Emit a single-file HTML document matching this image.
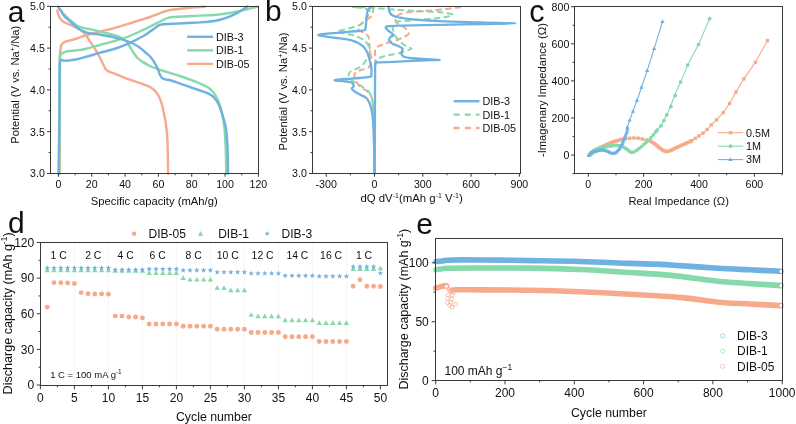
<!DOCTYPE html>
<html><head><meta charset="utf-8"><style>
html,body{margin:0;padding:0;background:#fff;}
body{width:796px;height:424px;overflow:hidden;font-family:"Liberation Sans", sans-serif;}
svg{display:block;will-change:transform;}
</style></head><body>
<svg width="796" height="424" viewBox="0 0 796 424" font-family='Liberation Sans, sans-serif' fill="#111">
<rect width="796" height="424" fill="#fff"/>
<path d="M57.4 10.5 C57.47 10.92 57.45 11.83 57.8 13 C58.15 14.17 58.8 16.23 59.5 17.5 C60.2 18.77 61.22 19.82 62 20.6 C62.78 21.38 62.67 21.43 64.2 22.2 C65.73 22.97 68.85 24.1 71.2 25.2 C73.55 26.3 76.42 27.75 78.3 28.8 C80.18 29.85 81.32 30.57 82.5 31.5 C83.68 32.43 84.22 32.85 85.4 34.4 C86.58 35.95 87.95 38.32 89.6 40.8 C91.25 43.28 93.6 46.52 95.3 49.3 C97 52.08 98.38 54.8 99.8 57.5 C101.22 60.2 102.77 63.5 103.8 65.5 C104.83 67.5 105.22 68.53 106 69.5 C106.78 70.47 107.13 70.65 108.5 71.3 C109.87 71.95 110.9 72.1 114.2 73.4 C117.5 74.7 123.58 77.33 128.3 79.1 C133.02 80.87 138.97 82.72 142.5 84 C146.03 85.28 147.38 85.62 149.5 86.8 C151.62 87.98 153.67 89.57 155.2 91.1 C156.73 92.63 157.77 94.35 158.7 96 C159.63 97.65 160.13 99.1 160.8 101 C161.47 102.9 162.13 105.07 162.7 107.4 C163.27 109.73 163.72 112.57 164.2 115 C164.68 117.43 165.13 118.8 165.6 122 C166.07 125.2 166.65 129.82 167 134.2 C167.35 138.58 167.52 141.75 167.7 148.3 C167.88 154.85 168.03 169.3 168.1 173.5" fill="none" stroke="#F7A98B" stroke-width="2.4" stroke-linejoin="round" stroke-linecap="round" />
<path d="M59.6 173.5 C59.63 164.58 59.73 139.2 59.8 120 C59.87 100.8 59.88 69.97 60 58.3 C60.12 46.63 60.3 52.17 60.5 50 C60.7 47.83 60.7 46.5 61.2 45.3 C61.7 44.1 62.53 43.48 63.5 42.8 C64.47 42.12 65.53 41.68 67 41.2 C68.47 40.72 70.42 40.43 72.3 39.9 C74.18 39.37 76.35 38.67 78.3 38 C80.25 37.33 81.63 36.62 84 35.9 C86.37 35.18 89.83 34.42 92.5 33.7 C95.17 32.98 96.38 32.53 100 31.6 C103.62 30.67 109.48 29.4 114.2 28.1 C118.92 26.8 123.58 25.25 128.3 23.8 C133.02 22.35 138.88 20.53 142.5 19.4 C146.12 18.27 147.57 17.85 150 17 C152.43 16.15 154.73 15.22 157.1 14.3 C159.47 13.38 161.85 12.25 164.2 11.5 C166.55 10.75 167.67 10.35 171.2 9.8 C174.73 9.25 180.68 8.65 185.4 8.2 C190.12 7.75 196.2 7.37 199.5 7.1 C202.8 6.83 204.25 6.68 205.2 6.6" fill="none" stroke="#F7A98B" stroke-width="2.4" stroke-linejoin="round" stroke-linecap="round" />
<path d="M58.2 7 C58.67 7.63 60 9.55 61 10.8 C62 12.05 62.5 12.8 64.2 14.5 C65.9 16.2 68.85 19.03 71.2 21 C73.55 22.97 75.93 25.07 78.3 26.3 C80.67 27.53 83.03 27.83 85.4 28.4 C87.77 28.97 90.07 29.17 92.5 29.7 C94.93 30.23 96.38 30.7 100 31.6 C103.62 32.5 110.7 34.12 114.2 35.1 C117.7 36.08 119.12 36.6 121 37.5 C122.88 38.4 124.05 39 125.5 40.5 C126.95 42 128.28 44.33 129.7 46.5 C131.12 48.67 132.62 51.5 134 53.5 C135.38 55.5 136.58 57.13 138 58.5 C139.42 59.87 140.5 60.45 142.5 61.7 C144.5 62.95 147.08 64.63 150 66 C152.92 67.37 155.28 68.32 160 69.9 C164.72 71.48 172.88 73.73 178.3 75.5 C183.72 77.27 188.88 79.17 192.5 80.5 C196.12 81.83 197.33 82.28 200 83.5 C202.67 84.72 206.13 86.15 208.5 87.8 C210.87 89.45 212.55 91.17 214.2 93.4 C215.85 95.63 217.12 98.02 218.4 101.2 C219.68 104.38 220.92 108.25 221.9 112.5 C222.88 116.75 223.73 122.12 224.3 126.7 C224.87 131.28 225.03 135.28 225.3 140 C225.57 144.72 225.75 149.42 225.9 155 C226.05 160.58 226.15 170.42 226.2 173.5" fill="none" stroke="#86D9AB" stroke-width="2.4" stroke-linejoin="round" stroke-linecap="round" />
<path d="M59.3 173.5 C59.33 164.58 59.45 138.58 59.5 120 C59.55 101.42 59.45 72.75 59.6 62 C59.75 51.25 60.02 56.95 60.4 55.5 C60.78 54.05 61.27 53.85 61.9 53.3 C62.53 52.75 63.25 52.53 64.2 52.2 C65.15 51.87 65.47 51.62 67.6 51.3 C69.73 50.98 74.27 50.63 77 50.3 C79.73 49.97 81.42 49.82 84 49.3 C86.58 48.78 89.83 47.92 92.5 47.2 C95.17 46.48 96.38 46.02 100 45 C103.62 43.98 109.48 42.52 114.2 41.1 C118.92 39.68 123.58 38.32 128.3 36.5 C133.02 34.68 138.88 31.85 142.5 30.2 C146.12 28.55 147.33 27.9 150 26.6 C152.67 25.3 156 23.67 158.5 22.4 C161 21.13 163.25 19.8 165 19 C166.75 18.2 167.67 17.93 169 17.6 C170.33 17.27 170.27 17.18 173 17 C175.73 16.82 180.98 16.73 185.4 16.5 C189.82 16.27 194.7 15.85 199.5 15.6 C204.3 15.35 209.4 15.4 214.2 15 C219 14.6 223.58 13.97 228.3 13.2 C233.02 12.43 238.25 11.35 242.5 10.4 C246.75 9.45 251.22 8.13 253.8 7.5 C256.38 6.87 257.3 6.75 258 6.6" fill="none" stroke="#86D9AB" stroke-width="2.4" stroke-linejoin="round" stroke-linecap="round" />
<path d="M58.2 6.6 C58.67 7.33 60 9.43 61 11 C62 12.57 62.5 14.1 64.2 16 C65.9 17.9 68.85 20.3 71.2 22.4 C73.55 24.5 75.93 26.97 78.3 28.6 C80.67 30.23 83.03 31.35 85.4 32.2 C87.77 33.05 90.07 33.3 92.5 33.7 C94.93 34.1 96.38 34 100 34.6 C103.62 35.2 109.48 36.15 114.2 37.3 C118.92 38.45 124.3 39.97 128.3 41.5 C132.3 43.03 135.13 44.5 138.2 46.5 C141.27 48.5 144.65 51.75 146.7 53.5 C148.75 55.25 149.25 55.57 150.5 57 C151.75 58.43 152.98 60.08 154.2 62.1 C155.42 64.12 156.78 66.87 157.8 69.1 C158.82 71.33 159.52 73.97 160.3 75.5 C161.08 77.03 161.55 77.63 162.5 78.3 C163.45 78.97 164.55 79.13 166 79.5 C167.45 79.87 167.97 79.52 171.2 80.5 C174.43 81.48 180.6 83.73 185.4 85.4 C190.2 87.07 196.15 89.13 200 90.5 C203.85 91.87 206.13 92.4 208.5 93.6 C210.87 94.8 212.55 95.95 214.2 97.7 C215.85 99.45 217 101.15 218.4 104.1 C219.8 107.05 221.38 111.63 222.6 115.4 C223.82 119.17 224.95 122.6 225.7 126.7 C226.45 130.8 226.75 135.28 227.1 140 C227.45 144.72 227.63 149.42 227.8 155 C227.97 160.58 228.05 170.42 228.1 173.5" fill="none" stroke="#6FB2E2" stroke-width="2.4" stroke-linejoin="round" stroke-linecap="round" />
<path d="M58.5 173.5 C58.57 169.58 58.77 158.92 58.9 150 C59.03 141.08 59.18 130 59.3 120 C59.42 110 59.52 99 59.6 90 C59.68 81 59.68 70.83 59.8 66 C59.92 61.17 60.02 62 60.3 61 C60.58 60 60.85 60.07 61.5 60 C62.15 59.93 63.18 60.5 64.2 60.6 C65.22 60.7 65.47 60.83 67.6 60.6 C69.73 60.37 74.27 59.73 77 59.2 C79.73 58.67 81.42 58.1 84 57.4 C86.58 56.7 89.83 55.78 92.5 55 C95.17 54.22 96.38 53.7 100 52.7 C103.62 51.7 109.48 50.52 114.2 49 C118.92 47.48 123.58 45.68 128.3 43.6 C133.02 41.52 138.88 38.5 142.5 36.5 C146.12 34.5 148.05 32.92 150 31.6 C151.95 30.28 152.78 29.62 154.2 28.6 C155.62 27.58 157.28 26.18 158.5 25.5 C159.72 24.82 160.55 24.72 161.5 24.5 C162.45 24.28 161.4 24.37 164.2 24.2 C167 24.03 173.58 23.75 178.3 23.5 C183.02 23.25 188.88 22.88 192.5 22.7 C196.12 22.52 196.38 22.68 200 22.4 C203.62 22.12 209.95 21.7 214.2 21 C218.45 20.3 221.97 19.38 225.5 18.2 C229.03 17.02 232.57 15.32 235.4 13.9 C238.23 12.48 240.5 10.92 242.5 9.7 C244.5 8.48 246.58 7.12 247.4 6.6" fill="none" stroke="#6FB2E2" stroke-width="2.4" stroke-linejoin="round" stroke-linecap="round" />
<rect x="50.5" y="6.5" width="208" height="167" fill="none" stroke="#3a3a3a" stroke-width="1"/>
<line x1="50.5" y1="6.3" x2="47" y2="6.3" stroke="#3a3a3a" stroke-width="1"/>
<text x="44.8" y="10.1" font-size="10.6" text-anchor="end" >5.0</text>
<line x1="50.5" y1="48.1" x2="47" y2="48.1" stroke="#3a3a3a" stroke-width="1"/>
<text x="44.8" y="51.9" font-size="10.6" text-anchor="end" >4.5</text>
<line x1="50.5" y1="89.9" x2="47" y2="89.9" stroke="#3a3a3a" stroke-width="1"/>
<text x="44.8" y="93.7" font-size="10.6" text-anchor="end" >4.0</text>
<line x1="50.5" y1="131.7" x2="47" y2="131.7" stroke="#3a3a3a" stroke-width="1"/>
<text x="44.8" y="135.5" font-size="10.6" text-anchor="end" >3.5</text>
<line x1="50.5" y1="173.5" x2="47" y2="173.5" stroke="#3a3a3a" stroke-width="1"/>
<text x="44.8" y="177.3" font-size="10.6" text-anchor="end" >3.0</text>
<line x1="50.5" y1="27.2" x2="48.5" y2="27.2" stroke="#3a3a3a" stroke-width="1"/>
<line x1="50.5" y1="69" x2="48.5" y2="69" stroke="#3a3a3a" stroke-width="1"/>
<line x1="50.5" y1="110.8" x2="48.5" y2="110.8" stroke="#3a3a3a" stroke-width="1"/>
<line x1="50.5" y1="152.6" x2="48.5" y2="152.6" stroke="#3a3a3a" stroke-width="1"/>
<line x1="58.4" y1="173.5" x2="58.4" y2="176.7" stroke="#3a3a3a" stroke-width="1"/>
<text x="58.4" y="188.1" font-size="10.6" text-anchor="middle" >0</text>
<line x1="91.73" y1="173.5" x2="91.73" y2="176.7" stroke="#3a3a3a" stroke-width="1"/>
<text x="91.73" y="188.1" font-size="10.6" text-anchor="middle" >20</text>
<line x1="125.07" y1="173.5" x2="125.07" y2="176.7" stroke="#3a3a3a" stroke-width="1"/>
<text x="125.07" y="188.1" font-size="10.6" text-anchor="middle" >40</text>
<line x1="158.4" y1="173.5" x2="158.4" y2="176.7" stroke="#3a3a3a" stroke-width="1"/>
<text x="158.4" y="188.1" font-size="10.6" text-anchor="middle" >60</text>
<line x1="191.74" y1="173.5" x2="191.74" y2="176.7" stroke="#3a3a3a" stroke-width="1"/>
<text x="191.74" y="188.1" font-size="10.6" text-anchor="middle" >80</text>
<line x1="225.07" y1="173.5" x2="225.07" y2="176.7" stroke="#3a3a3a" stroke-width="1"/>
<text x="225.07" y="188.1" font-size="10.6" text-anchor="middle" >100</text>
<line x1="258.4" y1="173.5" x2="258.4" y2="176.7" stroke="#3a3a3a" stroke-width="1"/>
<text x="258.4" y="188.1" font-size="10.6" text-anchor="middle" >120</text>
<line x1="75.07" y1="173.5" x2="75.07" y2="175.3" stroke="#3a3a3a" stroke-width="1"/>
<line x1="108.4" y1="173.5" x2="108.4" y2="175.3" stroke="#3a3a3a" stroke-width="1"/>
<line x1="141.74" y1="173.5" x2="141.74" y2="175.3" stroke="#3a3a3a" stroke-width="1"/>
<line x1="175.07" y1="173.5" x2="175.07" y2="175.3" stroke="#3a3a3a" stroke-width="1"/>
<line x1="208.4" y1="173.5" x2="208.4" y2="175.3" stroke="#3a3a3a" stroke-width="1"/>
<line x1="241.74" y1="173.5" x2="241.74" y2="175.3" stroke="#3a3a3a" stroke-width="1"/>
<text x="154.2" y="204.8" font-size="11.25" text-anchor="middle" >Specific capacity (mAh/g)</text>
<text transform="translate(19 84.8) rotate(-90)" font-size="11.2" text-anchor="middle" >Potential (V vs. Na<tspan dy="-4" font-size="7.2">+</tspan><tspan dy="4">/Na)</tspan></text>
<line x1="187.2" y1="36.8" x2="213" y2="36.8" stroke="#6FB2E2" stroke-width="2.4"/>
<text x="216" y="40.7" font-size="10.8" text-anchor="start" >DIB-3</text>
<line x1="187.2" y1="50.35" x2="213" y2="50.35" stroke="#86D9AB" stroke-width="2.4"/>
<text x="216" y="54.25" font-size="10.8" text-anchor="start" >DIB-1</text>
<line x1="187.2" y1="63.9" x2="213" y2="63.9" stroke="#F7A98B" stroke-width="2.4"/>
<text x="216" y="67.8" font-size="10.8" text-anchor="start" >DIB-05</text>
<text x="7.8" y="21.9" font-size="30" text-anchor="start" >a</text>
<path d="M372.8 7.5 C372.83 8.17 373.25 10 373 11.5 C372.75 13 372.47 15.08 371.3 16.5 C370.13 17.92 367.63 18.83 366 20 C364.37 21.17 362.92 22.33 361.5 23.5 C360.08 24.67 357.92 25.92 357.5 27 C357.08 28.08 358 29 359 30 C360 31 362.05 32.08 363.5 33 C364.95 33.92 366.78 34.5 367.7 35.5 C368.62 36.5 368.68 37.17 369 39 C369.32 40.83 369.37 44.17 369.6 46.5 C369.83 48.83 370.13 50.75 370.4 53 C370.67 55.25 371.5 57.58 371.2 60 C370.9 62.42 370.3 65.83 368.6 67.5 C366.9 69.17 363.1 69.25 361 70 C358.9 70.75 357.12 71 356 72 C354.88 73 354.38 74.58 354.3 76 C354.22 77.42 354.53 78.68 355.5 80.5 C356.47 82.32 358.35 85.23 360.1 86.9 C361.85 88.57 364.35 89.32 366 90.5 C367.65 91.68 368.98 92.48 370 94 C371.02 95.52 371.5 96.1 372.1 99.6 C372.7 103.1 373.23 108.27 373.6 115 C373.97 121.73 374.15 130.33 374.3 140 C374.45 149.67 374.47 167.5 374.5 173" fill="none" stroke="#F7A98B" stroke-width="2.0" stroke-linejoin="round" stroke-linecap="round" stroke-dasharray="4.8 5" stroke-linecap="butt"/>
<path d="M374.6 173 C374.67 157.5 374.9 98.83 375 80 C375.1 61.17 375.05 65.28 375.2 60 C375.35 54.72 374.22 51.03 375.9 48.3 C377.58 45.57 381.62 45.03 385.3 43.6 C388.98 42.17 394.72 40.88 398 39.7 C401.28 38.52 403.22 37.48 405 36.5 C406.78 35.52 408.37 34.88 408.7 33.8 C409.03 32.72 407.78 31.08 407 30 C406.22 28.92 405.33 28.22 404 27.3 C402.67 26.38 400.42 25.63 399 24.5 C397.58 23.37 395.83 21.92 395.5 20.5 C395.17 19.08 395.78 17.2 397 16 C398.22 14.8 399.75 14.02 402.8 13.3 C405.85 12.58 410.65 12.17 415.3 11.7 C419.95 11.23 425.58 10.97 430.7 10.5 C435.82 10.03 441.15 9.43 446 8.9 C450.85 8.37 458.3 7.65 459.8 7.3 C461.3 6.95 455.8 6.88 455 6.8" fill="none" stroke="#F7A98B" stroke-width="2.0" stroke-linejoin="round" stroke-linecap="round" stroke-dasharray="4.8 5" stroke-linecap="butt"/>
<path d="M356 7.3 C357.33 7.45 361.75 7.67 364 8.2 C366.25 8.73 368.5 9.87 369.5 10.5 C370.5 11.13 370.5 10.75 370 12 C369.5 13.25 368 15.92 366.5 18 C365 20.08 363.42 22.92 361 24.5 C358.58 26.08 354.83 26.65 352 27.5 C349.17 28.35 346.5 28.92 344 29.6 C341.5 30.28 336.83 30.93 337 31.6 C337.17 32.27 342.23 32.97 345 33.6 C347.77 34.23 350.8 34.53 353.6 35.4 C356.4 36.27 359.8 37.78 361.8 38.8 C363.8 39.82 364.42 40.22 365.6 41.5 C366.78 42.78 368.2 44.75 368.9 46.5 C369.6 48.25 370.2 49.83 369.8 52 C369.4 54.17 367.88 57.17 366.5 59.5 C365.12 61.83 363.42 64.33 361.5 66 C359.58 67.67 356.92 68.5 355 69.5 C353.08 70.5 351.08 71 350 72 C348.92 73 348.5 74.42 348.5 75.5 C348.5 76.58 349.25 77.55 350 78.5 C350.75 79.45 351.08 79.92 353 81.2 C354.92 82.48 358.92 84.48 361.5 86.2 C364.08 87.92 366.83 89.7 368.5 91.5 C370.17 93.3 370.78 94.7 371.5 97 C372.22 99.3 372.38 99.8 372.8 105.3 C373.22 110.8 373.72 118.72 374 130 C374.28 141.28 374.42 165.83 374.5 173" fill="none" stroke="#86D9AB" stroke-width="2.0" stroke-linejoin="round" stroke-linecap="round" stroke-dasharray="4.8 5" stroke-linecap="butt"/>
<path d="M374.6 173 C374.67 157.5 374.8 98.5 375 80 C375.2 61.5 375.38 65.53 375.8 62 C376.22 58.47 375.52 59.92 377.5 58.8 C379.48 57.68 384.23 56.2 387.7 55.3 C391.17 54.4 395.42 54.03 398.3 53.4 C401.18 52.77 403.13 52.13 405 51.5 C406.87 50.87 408.5 50.12 409.5 49.6 C410.5 49.08 411.75 49.08 411 48.4 C410.25 47.72 406.63 46.48 405 45.5 C403.37 44.52 402.53 43.67 401.2 42.5 C399.87 41.33 398.2 40.08 397 38.5 C395.8 36.92 394.72 34.83 394 33 C393.28 31.17 392.65 29.07 392.7 27.5 C392.75 25.93 393.5 24.58 394.3 23.6 C395.1 22.62 395.22 22.07 397.5 21.6 C399.78 21.13 405.03 21.05 408 20.8 C410.97 20.55 411.52 20.42 415.3 20.1 C419.08 19.78 426.1 19.32 430.7 18.9 C435.3 18.48 439.2 18.3 442.9 17.6 C446.6 16.9 452.9 15.53 452.9 14.7 C452.9 13.87 446.6 13.1 442.9 12.6 C439.2 12.1 435.3 11.98 430.7 11.7 C426.1 11.42 420.42 11.17 415.3 10.9 C410.18 10.63 404.55 10.4 400 10.1 C395.45 9.8 391.83 9.4 388 9.1 C384.17 8.8 380.67 8.58 377 8.3 C373.33 8.02 370 7.62 366 7.4 C362 7.18 355.17 7.07 353 7" fill="none" stroke="#86D9AB" stroke-width="2.0" stroke-linejoin="round" stroke-linecap="round" stroke-dasharray="4.8 5" stroke-linecap="butt"/>
<path d="M371.5 6.6 C370.98 7.05 369.13 8.18 368.4 9.3 C367.67 10.42 367.45 11.38 367.1 13.3 C366.75 15.22 366.57 18.32 366.3 20.8 C366.03 23.28 365.92 26.6 365.5 28.2 C365.08 29.8 366.38 29.83 363.8 30.4 C361.22 30.97 353.92 31.23 350 31.6 C346.08 31.97 345.57 32.05 340.3 32.6 C335.03 33.15 319.58 34.07 318.4 34.9 C317.22 35.73 329.6 37.03 333.2 37.6 C336.8 38.17 337.1 37.88 340 38.3 C342.9 38.72 347.42 39.25 350.6 40.1 C353.78 40.95 356.8 42.12 359.1 43.4 C361.4 44.68 362.93 46.03 364.4 47.8 C365.87 49.57 367.03 51.97 367.9 54 C368.77 56.03 369.05 58 369.6 60 C370.15 62 370.9 63.5 371.2 66 C371.5 68.5 371.68 73.18 371.4 75 C371.12 76.82 372.32 76.33 369.5 76.9 C366.68 77.47 360.28 77.87 354.5 78.4 C348.72 78.93 336.47 79.62 334.8 80.1 C333.13 80.58 341.7 80.88 344.5 81.3 C347.3 81.72 350.07 81.82 351.6 82.6 C353.13 83.38 353.67 85.05 353.7 86 C353.73 86.95 351.88 87.57 351.8 88.3 C351.72 89.03 352.05 89.45 353.2 90.4 C354.35 91.35 356.6 92.8 358.7 94 C360.8 95.2 364.03 96.18 365.8 97.6 C367.57 99.02 368.37 100.52 369.3 102.5 C370.23 104.48 370.82 106.92 371.4 109.5 C371.98 112.08 372.45 114.58 372.8 118 C373.15 121.42 373.27 124.05 373.5 130 C373.73 135.95 374.03 146.45 374.2 153.7 C374.37 160.95 374.45 170.2 374.5 173.5" fill="none" stroke="#6FB2E2" stroke-width="2.3" stroke-linejoin="round" stroke-linecap="round" />
<path d="M374.6 173.5 C374.63 169.58 374.73 162.25 374.8 150 C374.87 137.75 374.95 113.33 375 100 C375.05 86.67 375.05 76 375.1 70 C375.15 64 375.12 65.27 375.3 64 C375.48 62.73 375.42 62.67 376.2 62.4 C376.98 62.13 377.1 62.5 380 62.4 C382.9 62.3 388.28 62.05 393.6 61.8 C398.92 61.55 406.67 61.15 411.9 60.9 C417.13 60.65 420.38 60.48 425 60.3 C429.62 60.12 439.92 60.03 439.6 59.8 C439.28 59.57 428.2 59.22 423.1 58.9 C418 58.58 412.27 58.28 409 57.9 C405.73 57.52 404.8 57.42 403.5 56.6 C402.2 55.78 401.35 54.3 401.2 53 C401.05 51.7 403.1 49.97 402.6 48.8 C402.1 47.63 400.02 46.9 398.2 46 C396.38 45.1 393.23 44.4 391.7 43.4 C390.17 42.4 389.18 41.07 389 40 C388.82 38.93 389.83 37.85 390.6 37 C391.37 36.15 393.77 35.78 393.6 34.9 C393.43 34.02 390.87 32.8 389.6 31.7 C388.33 30.6 386.4 29.2 386 28.3 C385.6 27.4 385.2 26.73 387.2 26.3 C389.2 25.87 393.88 25.87 398 25.7 C402.12 25.53 404.9 25.45 411.9 25.3 C418.9 25.15 428.65 25.02 440 24.8 C451.35 24.58 467.38 24.25 480 24 C492.62 23.75 515.7 23.57 515.7 23.3 C515.7 23.03 492.62 22.75 480 22.4 C467.38 22.05 451.67 21.73 440 21.2 C428.33 20.67 416.83 19.82 410 19.2 C403.17 18.58 401.97 18.17 399 17.5 C396.03 16.83 393.8 16.15 392.2 15.2 C390.6 14.25 390 13.23 389.4 11.8 C388.8 10.37 388.73 7.47 388.6 6.6" fill="none" stroke="#6FB2E2" stroke-width="2.3" stroke-linejoin="round" stroke-linecap="round" />
<rect x="312.5" y="6.5" width="208" height="167" fill="none" stroke="#3a3a3a" stroke-width="1"/>
<line x1="312.5" y1="6.3" x2="309" y2="6.3" stroke="#3a3a3a" stroke-width="1"/>
<text x="306.8" y="10.1" font-size="10.6" text-anchor="end" >5.0</text>
<line x1="312.5" y1="48.1" x2="309" y2="48.1" stroke="#3a3a3a" stroke-width="1"/>
<text x="306.8" y="51.9" font-size="10.6" text-anchor="end" >4.5</text>
<line x1="312.5" y1="89.9" x2="309" y2="89.9" stroke="#3a3a3a" stroke-width="1"/>
<text x="306.8" y="93.7" font-size="10.6" text-anchor="end" >4.0</text>
<line x1="312.5" y1="131.7" x2="309" y2="131.7" stroke="#3a3a3a" stroke-width="1"/>
<text x="306.8" y="135.5" font-size="10.6" text-anchor="end" >3.5</text>
<line x1="312.5" y1="173.5" x2="309" y2="173.5" stroke="#3a3a3a" stroke-width="1"/>
<text x="306.8" y="177.3" font-size="10.6" text-anchor="end" >3.0</text>
<line x1="312.5" y1="27.2" x2="310.5" y2="27.2" stroke="#3a3a3a" stroke-width="1"/>
<line x1="312.5" y1="69" x2="310.5" y2="69" stroke="#3a3a3a" stroke-width="1"/>
<line x1="312.5" y1="110.8" x2="310.5" y2="110.8" stroke="#3a3a3a" stroke-width="1"/>
<line x1="312.5" y1="152.6" x2="310.5" y2="152.6" stroke="#3a3a3a" stroke-width="1"/>
<line x1="326.2" y1="173.5" x2="326.2" y2="176.7" stroke="#3a3a3a" stroke-width="1"/>
<text x="326.2" y="188.1" font-size="10.6" text-anchor="middle" >-300</text>
<line x1="374.5" y1="173.5" x2="374.5" y2="176.7" stroke="#3a3a3a" stroke-width="1"/>
<text x="374.5" y="188.1" font-size="10.6" text-anchor="middle" >0</text>
<line x1="422.8" y1="173.5" x2="422.8" y2="176.7" stroke="#3a3a3a" stroke-width="1"/>
<text x="422.8" y="188.1" font-size="10.6" text-anchor="middle" >300</text>
<line x1="471.1" y1="173.5" x2="471.1" y2="176.7" stroke="#3a3a3a" stroke-width="1"/>
<text x="471.1" y="188.1" font-size="10.6" text-anchor="middle" >600</text>
<line x1="519.4" y1="173.5" x2="519.4" y2="176.7" stroke="#3a3a3a" stroke-width="1"/>
<text x="519.4" y="188.1" font-size="10.6" text-anchor="middle" >900</text>
<line x1="350.35" y1="173.5" x2="350.35" y2="175.3" stroke="#3a3a3a" stroke-width="1"/>
<line x1="398.65" y1="173.5" x2="398.65" y2="175.3" stroke="#3a3a3a" stroke-width="1"/>
<line x1="446.95" y1="173.5" x2="446.95" y2="175.3" stroke="#3a3a3a" stroke-width="1"/>
<line x1="495.25" y1="173.5" x2="495.25" y2="175.3" stroke="#3a3a3a" stroke-width="1"/>
<text x="360.4" y="202.3" font-size="11.4" text-anchor="start" >dQ dV<tspan dy="-4" font-size="7">-1</tspan><tspan dy="4">(mAh g</tspan><tspan dy="-4" font-size="7">-1</tspan><tspan dy="4"> V</tspan><tspan dy="-4" font-size="7">-1</tspan><tspan dy="4">)</tspan></text>
<text transform="translate(287 91.5) rotate(-90)" font-size="11.2" text-anchor="middle" >Potential (V vs. Na<tspan dy="-4" font-size="7.2">+</tspan><tspan dy="4">/Na)</tspan></text>
<line x1="453.6" y1="101.2" x2="479.5" y2="101.2" stroke="#6FB2E2" stroke-width="2.4" />
<text x="482.5" y="105.1" font-size="10.8" text-anchor="start" >DIB-3</text>
<line x1="453.6" y1="114.6" x2="479.5" y2="114.6" stroke="#86D9AB" stroke-width="2.4" stroke-dasharray="6 5.2"/>
<text x="482.5" y="118.5" font-size="10.8" text-anchor="start" >DIB-1</text>
<line x1="453.6" y1="128" x2="479.5" y2="128" stroke="#F7A98B" stroke-width="2.4" stroke-dasharray="6 5.2"/>
<text x="482.5" y="131.9" font-size="10.8" text-anchor="start" >DIB-05</text>
<text x="264.9" y="21" font-size="30" text-anchor="start" >b</text>
<path d="M589.5 155.3 L592 152.8 L597 149.3 L603 146.3 L608.3 143.8 L613 142 L618.2 140.3 L623 139.2 L628.1 138.5 L632.3 138 L636.6 137.9 L640.3 138.5 L643.6 139.4 L647.2 140.2 L650.7 141.4 L654.5 143.6 L658 146.6 L661.5 149.4 L665.6 151.6 L669.7 151 L673.2 149.2 L677.1 147.3 L681 145.6 L686.5 143.2 L691.8 140.7 L695.3 138.4 L698.9 136 L703.1 133.1 L707.1 129.5 L711.2 125 L716.6 119.8 L723.2 112.6 L729.6 103.4 L736 92.1 L743.8 78.9 L755.3 62.4 L767.5 40.6" fill="none" stroke="#F7A98B" stroke-width="1.1" stroke-linejoin="round" stroke-linecap="round" />
<path d="M589 155 L591.5 152 L595 150 L601.2 147.6 L608 146.3 L615.4 145.4 L619.5 145.6 L622.4 146.5 L626 148.6 L629.5 151.3 L632.3 152.7 L635.5 151.3 L640.8 147.2 L645 143.5 L649.3 139.6 L653.6 134.6 L657.1 130.2 L660.6 126 L663.5 121.2 L667 114.1 L670.5 106.4 L674.7 95.3 L680.6 82.1 L687.7 65.1 L698.5 44.6 L709.6 18.7" fill="none" stroke="#86D9AB" stroke-width="1.1" stroke-linejoin="round" stroke-linecap="round" />
<path d="M588.8 155.6 L590.5 153.5 L594.1 151.8 L598 150.5 L601.2 150 L604.8 150.3 L608.3 151.5 L611 153 L613.5 153.6 L616 152.4 L618.6 149.8 L621 146 L622.8 142.4 L625.1 136.5 L627.3 131 L627.4 127.3 L629.6 120.2 L633 111.3 L637 100.4 L641.5 87.3 L647.2 70.7 L654.2 48.6 L662.5 21.5" fill="none" stroke="#6FB2E2" stroke-width="1.1" stroke-linejoin="round" stroke-linecap="round" />
<rect x="587.8" y="153.6" width="3.4" height="3.4" fill="#F7A98B"/>
<rect x="589.21" y="152.19" width="3.4" height="3.4" fill="#F7A98B"/>
<rect x="590.68" y="150.83" width="3.4" height="3.4" fill="#F7A98B"/>
<rect x="592.32" y="149.69" width="3.4" height="3.4" fill="#F7A98B"/>
<rect x="593.96" y="148.54" width="3.4" height="3.4" fill="#F7A98B"/>
<rect x="595.62" y="147.44" width="3.4" height="3.4" fill="#F7A98B"/>
<rect x="597.41" y="146.54" width="3.4" height="3.4" fill="#F7A98B"/>
<rect x="599.2" y="145.65" width="3.4" height="3.4" fill="#F7A98B"/>
<rect x="600.99" y="144.76" width="3.4" height="3.4" fill="#F7A98B"/>
<rect x="602.8" y="143.89" width="3.4" height="3.4" fill="#F7A98B"/>
<rect x="604.6" y="143.04" width="3.4" height="3.4" fill="#F7A98B"/>
<rect x="606.41" y="142.19" width="3.4" height="3.4" fill="#F7A98B"/>
<rect x="608.27" y="141.46" width="3.4" height="3.4" fill="#F7A98B"/>
<rect x="610.14" y="140.74" width="3.4" height="3.4" fill="#F7A98B"/>
<rect x="612.02" y="140.06" width="3.4" height="3.4" fill="#F7A98B"/>
<rect x="613.92" y="139.44" width="3.4" height="3.4" fill="#F7A98B"/>
<rect x="615.82" y="138.82" width="3.4" height="3.4" fill="#F7A98B"/>
<rect x="617.76" y="138.31" width="3.4" height="3.4" fill="#F7A98B"/>
<rect x="619.71" y="137.87" width="3.4" height="3.4" fill="#F7A98B"/>
<rect x="621.66" y="137.45" width="3.4" height="3.4" fill="#F7A98B"/>
<rect x="623.64" y="137.18" width="3.4" height="3.4" fill="#F7A98B"/>
<rect x="627.91" y="136.62" width="3.4" height="3.4" fill="#F7A98B"/>
<rect x="632.19" y="136.26" width="3.4" height="3.4" fill="#F7A98B"/>
<rect x="636.47" y="136.45" width="3.4" height="3.4" fill="#F7A98B"/>
<rect x="640.66" y="137.36" width="3.4" height="3.4" fill="#F7A98B"/>
<rect x="644.85" y="138.35" width="3.4" height="3.4" fill="#F7A98B"/>
<rect x="648.93" y="139.68" width="3.4" height="3.4" fill="#F7A98B"/>
<rect x="650.67" y="140.67" width="3.4" height="3.4" fill="#F7A98B"/>
<rect x="652.4" y="141.67" width="3.4" height="3.4" fill="#F7A98B"/>
<rect x="653.97" y="142.9" width="3.4" height="3.4" fill="#F7A98B"/>
<rect x="655.49" y="144.2" width="3.4" height="3.4" fill="#F7A98B"/>
<rect x="657.03" y="145.48" width="3.4" height="3.4" fill="#F7A98B"/>
<rect x="658.59" y="146.73" width="3.4" height="3.4" fill="#F7A98B"/>
<rect x="660.19" y="147.91" width="3.4" height="3.4" fill="#F7A98B"/>
<rect x="661.96" y="148.86" width="3.4" height="3.4" fill="#F7A98B"/>
<rect x="663.72" y="149.8" width="3.4" height="3.4" fill="#F7A98B"/>
<rect x="665.67" y="149.64" width="3.4" height="3.4" fill="#F7A98B"/>
<rect x="667.65" y="149.35" width="3.4" height="3.4" fill="#F7A98B"/>
<rect x="669.47" y="148.55" width="3.4" height="3.4" fill="#F7A98B"/>
<rect x="671.25" y="147.63" width="3.4" height="3.4" fill="#F7A98B"/>
<rect x="673.04" y="146.75" width="3.4" height="3.4" fill="#F7A98B"/>
<rect x="674.84" y="145.87" width="3.4" height="3.4" fill="#F7A98B"/>
<rect x="676.66" y="145.05" width="3.4" height="3.4" fill="#F7A98B"/>
<rect x="678.49" y="144.25" width="3.4" height="3.4" fill="#F7A98B"/>
<rect x="680.33" y="143.45" width="3.4" height="3.4" fill="#F7A98B"/>
<rect x="682.16" y="142.65" width="3.4" height="3.4" fill="#F7A98B"/>
<rect x="683.99" y="141.85" width="3.4" height="3.4" fill="#F7A98B"/>
<rect x="685.81" y="141.02" width="3.4" height="3.4" fill="#F7A98B"/>
<rect x="687.62" y="140.17" width="3.4" height="3.4" fill="#F7A98B"/>
<rect x="689.43" y="139.32" width="3.4" height="3.4" fill="#F7A98B"/>
<rect x="765.8" y="38.9" width="3.4" height="3.4" fill="#F7A98B"/>
<rect x="753.6" y="60.7" width="3.4" height="3.4" fill="#F7A98B"/>
<rect x="742.1" y="77.2" width="3.4" height="3.4" fill="#F7A98B"/>
<rect x="734.3" y="90.4" width="3.4" height="3.4" fill="#F7A98B"/>
<rect x="727.9" y="101.7" width="3.4" height="3.4" fill="#F7A98B"/>
<rect x="721.5" y="110.9" width="3.4" height="3.4" fill="#F7A98B"/>
<rect x="714.9" y="118.1" width="3.4" height="3.4" fill="#F7A98B"/>
<rect x="709.5" y="123.3" width="3.4" height="3.4" fill="#F7A98B"/>
<rect x="705.4" y="127.8" width="3.4" height="3.4" fill="#F7A98B"/>
<rect x="701.4" y="131.4" width="3.4" height="3.4" fill="#F7A98B"/>
<rect x="697.2" y="134.3" width="3.4" height="3.4" fill="#F7A98B"/>
<rect x="693.6" y="136.7" width="3.4" height="3.4" fill="#F7A98B"/>
<rect x="690.1" y="139" width="3.4" height="3.4" fill="#F7A98B"/>
<circle cx="589" cy="155" r="1.9" fill="#86D9AB"/>
<circle cx="590.02" cy="153.77" r="1.9" fill="#86D9AB"/>
<circle cx="591.05" cy="152.54" r="1.9" fill="#86D9AB"/>
<circle cx="592.3" cy="151.54" r="1.9" fill="#86D9AB"/>
<circle cx="593.72" cy="150.73" r="1.9" fill="#86D9AB"/>
<circle cx="595.17" cy="149.93" r="1.9" fill="#86D9AB"/>
<circle cx="596.73" cy="149.33" r="1.9" fill="#86D9AB"/>
<circle cx="598.32" cy="148.71" r="1.9" fill="#86D9AB"/>
<circle cx="599.94" cy="148.09" r="1.9" fill="#86D9AB"/>
<circle cx="601.6" cy="147.52" r="1.9" fill="#86D9AB"/>
<circle cx="603.37" cy="147.19" r="1.9" fill="#86D9AB"/>
<circle cx="605.17" cy="146.84" r="1.9" fill="#86D9AB"/>
<circle cx="607.01" cy="146.49" r="1.9" fill="#86D9AB"/>
<circle cx="608.9" cy="146.19" r="1.9" fill="#86D9AB"/>
<circle cx="610.84" cy="145.95" r="1.9" fill="#86D9AB"/>
<circle cx="612.84" cy="145.71" r="1.9" fill="#86D9AB"/>
<circle cx="614.88" cy="145.46" r="1.9" fill="#86D9AB"/>
<circle cx="616.99" cy="145.48" r="1.9" fill="#86D9AB"/>
<circle cx="619.16" cy="145.58" r="1.9" fill="#86D9AB"/>
<circle cx="621.31" cy="146.16" r="1.9" fill="#86D9AB"/>
<circle cx="623.4" cy="147.08" r="1.9" fill="#86D9AB"/>
<circle cx="625.45" cy="148.28" r="1.9" fill="#86D9AB"/>
<circle cx="627.43" cy="149.7" r="1.9" fill="#86D9AB"/>
<circle cx="629.43" cy="151.25" r="1.9" fill="#86D9AB"/>
<circle cx="631.75" cy="152.43" r="1.9" fill="#86D9AB"/>
<circle cx="634.21" cy="151.86" r="1.9" fill="#86D9AB"/>
<circle cx="636.6" cy="150.45" r="1.9" fill="#86D9AB"/>
<circle cx="638.89" cy="148.68" r="1.9" fill="#86D9AB"/>
<circle cx="641.25" cy="146.81" r="1.9" fill="#86D9AB"/>
<circle cx="643.59" cy="144.74" r="1.9" fill="#86D9AB"/>
<circle cx="646.01" cy="142.59" r="1.9" fill="#86D9AB"/>
<circle cx="648.51" cy="140.32" r="1.9" fill="#86D9AB"/>
<circle cx="650.89" cy="137.75" r="1.9" fill="#86D9AB"/>
<circle cx="653.28" cy="134.97" r="1.9" fill="#86D9AB"/>
<circle cx="655.68" cy="131.99" r="1.9" fill="#86D9AB"/>
<circle cx="709.6" cy="18.7" r="1.9" fill="#86D9AB"/>
<circle cx="698.5" cy="44.6" r="1.9" fill="#86D9AB"/>
<circle cx="687.7" cy="65.1" r="1.9" fill="#86D9AB"/>
<circle cx="680.6" cy="82.1" r="1.9" fill="#86D9AB"/>
<circle cx="675.2" cy="95.5" r="1.9" fill="#86D9AB"/>
<circle cx="670.9" cy="106.5" r="1.9" fill="#86D9AB"/>
<circle cx="666.7" cy="115" r="1.9" fill="#86D9AB"/>
<circle cx="663.9" cy="120.7" r="1.9" fill="#86D9AB"/>
<circle cx="661" cy="125.9" r="1.9" fill="#86D9AB"/>
<circle cx="657.1" cy="130.2" r="1.9" fill="#86D9AB"/>
<path d="M588.8 153.29 L586.65 157.02 L590.95 157.02 Z" fill="#6FB2E2"/>
<path d="M589.56 152.36 L587.41 156.08 L591.71 156.08 Z" fill="#6FB2E2"/>
<path d="M590.31 151.43 L588.16 155.15 L592.46 155.15 Z" fill="#6FB2E2"/>
<path d="M591.32 150.81 L589.17 154.53 L593.47 154.53 Z" fill="#6FB2E2"/>
<path d="M592.41 150.29 L590.26 154.02 L594.56 154.02 Z" fill="#6FB2E2"/>
<path d="M593.5 149.77 L591.35 153.5 L595.65 153.5 Z" fill="#6FB2E2"/>
<path d="M594.62 149.32 L592.47 153.04 L596.77 153.04 Z" fill="#6FB2E2"/>
<path d="M595.78 148.93 L593.63 152.65 L597.93 152.65 Z" fill="#6FB2E2"/>
<path d="M596.95 148.54 L594.8 152.26 L599.1 152.26 Z" fill="#6FB2E2"/>
<path d="M598.14 148.17 L595.99 151.89 L600.29 151.89 Z" fill="#6FB2E2"/>
<path d="M599.38 147.98 L597.23 151.7 L601.53 151.7 Z" fill="#6FB2E2"/>
<path d="M600.63 147.78 L598.48 151.5 L602.78 151.5 Z" fill="#6FB2E2"/>
<path d="M601.9 147.75 L599.75 151.47 L604.05 151.47 Z" fill="#6FB2E2"/>
<path d="M603.19 147.86 L601.04 151.58 L605.34 151.58 Z" fill="#6FB2E2"/>
<path d="M604.5 147.97 L602.35 151.69 L606.65 151.69 Z" fill="#6FB2E2"/>
<path d="M605.78 148.33 L603.63 152.05 L607.93 152.05 Z" fill="#6FB2E2"/>
<path d="M607.06 148.77 L604.91 152.49 L609.21 152.49 Z" fill="#6FB2E2"/>
<path d="M608.36 149.23 L606.21 152.95 L610.51 152.95 Z" fill="#6FB2E2"/>
<path d="M609.59 149.91 L607.44 153.63 L611.74 153.63 Z" fill="#6FB2E2"/>
<path d="M610.84 150.6 L608.69 154.33 L612.99 154.33 Z" fill="#6FB2E2"/>
<path d="M612.25 150.99 L610.1 154.71 L614.4 154.71 Z" fill="#6FB2E2"/>
<path d="M613.69 151.2 L611.54 154.93 L615.84 154.93 Z" fill="#6FB2E2"/>
<path d="M615.07 150.54 L612.92 154.26 L617.22 154.26 Z" fill="#6FB2E2"/>
<path d="M616.38 149.71 L614.23 153.44 L618.53 153.44 Z" fill="#6FB2E2"/>
<path d="M617.52 148.58 L615.37 152.3 L619.67 152.3 Z" fill="#6FB2E2"/>
<path d="M618.67 147.39 L616.52 151.11 L620.82 151.11 Z" fill="#6FB2E2"/>
<path d="M619.58 145.95 L617.43 149.67 L621.73 149.67 Z" fill="#6FB2E2"/>
<path d="M620.51 144.46 L618.36 148.19 L622.66 148.19 Z" fill="#6FB2E2"/>
<path d="M621.4 142.88 L619.25 146.61 L623.55 146.61 Z" fill="#6FB2E2"/>
<path d="M622.24 141.21 L620.09 144.93 L624.39 144.93 Z" fill="#6FB2E2"/>
<path d="M623.05 139.45 L620.9 143.17 L625.2 143.17 Z" fill="#6FB2E2"/>
<path d="M623.78 137.57 L621.63 141.29 L625.93 141.29 Z" fill="#6FB2E2"/>
<path d="M624.54 135.62 L622.39 139.34 L626.69 139.34 Z" fill="#6FB2E2"/>
<path d="M625.34 133.59 L623.19 137.32 L627.49 137.32 Z" fill="#6FB2E2"/>
<path d="M626.18 131.48 L624.03 135.21 L628.33 135.21 Z" fill="#6FB2E2"/>
<path d="M627.06 129.28 L624.91 133.01 L629.21 133.01 Z" fill="#6FB2E2"/>
<path d="M627.35 126.84 L625.2 130.57 L629.5 130.57 Z" fill="#6FB2E2"/>
<path d="M662.5 19.19 L660.35 22.92 L664.65 22.92 Z" fill="#6FB2E2"/>
<path d="M654.2 46.29 L652.05 50.02 L656.35 50.02 Z" fill="#6FB2E2"/>
<path d="M647.2 68.39 L645.05 72.12 L649.35 72.12 Z" fill="#6FB2E2"/>
<path d="M641.5 84.99 L639.35 88.72 L643.65 88.72 Z" fill="#6FB2E2"/>
<path d="M637 98.09 L634.85 101.82 L639.15 101.82 Z" fill="#6FB2E2"/>
<path d="M633 108.99 L630.85 112.72 L635.15 112.72 Z" fill="#6FB2E2"/>
<path d="M629.6 117.89 L627.45 121.62 L631.75 121.62 Z" fill="#6FB2E2"/>
<path d="M627.4 124.99 L625.25 128.72 L629.55 128.72 Z" fill="#6FB2E2"/>
<rect x="574.5" y="6.5" width="208" height="167" fill="none" stroke="#3a3a3a" stroke-width="1"/>
<line x1="574.5" y1="155.1" x2="571" y2="155.1" stroke="#3a3a3a" stroke-width="1"/>
<text x="569.3" y="158.9" font-size="10.6" text-anchor="end" >0</text>
<line x1="574.5" y1="118" x2="571" y2="118" stroke="#3a3a3a" stroke-width="1"/>
<text x="569.3" y="121.8" font-size="10.6" text-anchor="end" >200</text>
<line x1="574.5" y1="80.9" x2="571" y2="80.9" stroke="#3a3a3a" stroke-width="1"/>
<text x="569.3" y="84.7" font-size="10.6" text-anchor="end" >400</text>
<line x1="574.5" y1="43.8" x2="571" y2="43.8" stroke="#3a3a3a" stroke-width="1"/>
<text x="569.3" y="47.6" font-size="10.6" text-anchor="end" >600</text>
<line x1="574.5" y1="6.7" x2="571" y2="6.7" stroke="#3a3a3a" stroke-width="1"/>
<text x="569.3" y="10.5" font-size="10.6" text-anchor="end" >800</text>
<line x1="574.5" y1="173.65" x2="572.5" y2="173.65" stroke="#3a3a3a" stroke-width="1"/>
<line x1="574.5" y1="136.55" x2="572.5" y2="136.55" stroke="#3a3a3a" stroke-width="1"/>
<line x1="574.5" y1="99.45" x2="572.5" y2="99.45" stroke="#3a3a3a" stroke-width="1"/>
<line x1="574.5" y1="62.35" x2="572.5" y2="62.35" stroke="#3a3a3a" stroke-width="1"/>
<line x1="574.5" y1="25.25" x2="572.5" y2="25.25" stroke="#3a3a3a" stroke-width="1"/>
<line x1="588.3" y1="173.5" x2="588.3" y2="176.7" stroke="#3a3a3a" stroke-width="1"/>
<text x="588.3" y="188.1" font-size="10.6" text-anchor="middle" >0</text>
<line x1="643.66" y1="173.5" x2="643.66" y2="176.7" stroke="#3a3a3a" stroke-width="1"/>
<text x="643.66" y="188.1" font-size="10.6" text-anchor="middle" >200</text>
<line x1="699.02" y1="173.5" x2="699.02" y2="176.7" stroke="#3a3a3a" stroke-width="1"/>
<text x="699.02" y="188.1" font-size="10.6" text-anchor="middle" >400</text>
<line x1="754.38" y1="173.5" x2="754.38" y2="176.7" stroke="#3a3a3a" stroke-width="1"/>
<text x="754.38" y="188.1" font-size="10.6" text-anchor="middle" >600</text>
<line x1="615.98" y1="173.5" x2="615.98" y2="175.3" stroke="#3a3a3a" stroke-width="1"/>
<line x1="671.34" y1="173.5" x2="671.34" y2="175.3" stroke="#3a3a3a" stroke-width="1"/>
<line x1="726.7" y1="173.5" x2="726.7" y2="175.3" stroke="#3a3a3a" stroke-width="1"/>
<line x1="782.06" y1="173.5" x2="782.06" y2="175.3" stroke="#3a3a3a" stroke-width="1"/>
<text x="678.7" y="204.9" font-size="11.2" text-anchor="middle" >Real Impedance (Ω)</text>
<text transform="translate(546.4 90.1) rotate(-90)" font-size="11.2" text-anchor="middle" >-Imagenary Impedance (Ω)</text>
<line x1="717.8" y1="132.7" x2="743.2" y2="132.7" stroke="#F7A98B" stroke-width="1.1"/>
<rect x="728.8" y="131" width="3.4" height="3.4" fill="#F7A98B"/>
<text x="746" y="136.5" font-size="10.8" text-anchor="start" >0.5M</text>
<line x1="717.8" y1="146.15" x2="743.2" y2="146.15" stroke="#86D9AB" stroke-width="1.1"/>
<circle cx="730.5" cy="146.15" r="1.9" fill="#86D9AB"/>
<text x="746" y="149.95" font-size="10.8" text-anchor="start" >1M</text>
<line x1="717.8" y1="159.6" x2="743.2" y2="159.6" stroke="#6FB2E2" stroke-width="1.1"/>
<path d="M730.5 157.29 L728.35 161.02 L732.65 161.02 Z" fill="#6FB2E2"/>
<text x="746" y="163.4" font-size="10.8" text-anchor="start" >3M</text>
<text x="529.2" y="21.9" font-size="30.5" text-anchor="start" >c</text>
<line x1="74.4" y1="242.5" x2="74.4" y2="385.5" stroke="#f3f3f3" stroke-width="0.8"/>
<line x1="108.4" y1="242.5" x2="108.4" y2="385.5" stroke="#f3f3f3" stroke-width="0.8"/>
<line x1="142.4" y1="242.5" x2="142.4" y2="385.5" stroke="#f3f3f3" stroke-width="0.8"/>
<line x1="176.4" y1="242.5" x2="176.4" y2="385.5" stroke="#f3f3f3" stroke-width="0.8"/>
<line x1="210.4" y1="242.5" x2="210.4" y2="385.5" stroke="#f3f3f3" stroke-width="0.8"/>
<line x1="244.4" y1="242.5" x2="244.4" y2="385.5" stroke="#f3f3f3" stroke-width="0.8"/>
<line x1="278.4" y1="242.5" x2="278.4" y2="385.5" stroke="#f3f3f3" stroke-width="0.8"/>
<line x1="312.4" y1="242.5" x2="312.4" y2="385.5" stroke="#f3f3f3" stroke-width="0.8"/>
<line x1="346.4" y1="242.5" x2="346.4" y2="385.5" stroke="#f3f3f3" stroke-width="0.8"/>
<circle cx="47.2" cy="307.1" r="2.45" fill="#F7A98B"/>
<circle cx="54" cy="282.64" r="2.45" fill="#F7A98B"/>
<circle cx="60.8" cy="282.76" r="2.45" fill="#F7A98B"/>
<circle cx="67.6" cy="282.88" r="2.45" fill="#F7A98B"/>
<circle cx="74.4" cy="283.47" r="2.45" fill="#F7A98B"/>
<circle cx="81.2" cy="292.61" r="2.45" fill="#F7A98B"/>
<circle cx="88" cy="293.68" r="2.45" fill="#F7A98B"/>
<circle cx="94.8" cy="294.04" r="2.45" fill="#F7A98B"/>
<circle cx="101.6" cy="294.04" r="2.45" fill="#F7A98B"/>
<circle cx="108.4" cy="294.16" r="2.45" fill="#F7A98B"/>
<circle cx="115.2" cy="316.12" r="2.45" fill="#F7A98B"/>
<circle cx="122" cy="316.12" r="2.45" fill="#F7A98B"/>
<circle cx="128.8" cy="317.07" r="2.45" fill="#F7A98B"/>
<circle cx="135.6" cy="317.07" r="2.45" fill="#F7A98B"/>
<circle cx="142.4" cy="318.02" r="2.45" fill="#F7A98B"/>
<circle cx="149.2" cy="323.96" r="2.45" fill="#F7A98B"/>
<circle cx="156" cy="323.96" r="2.45" fill="#F7A98B"/>
<circle cx="162.8" cy="323.96" r="2.45" fill="#F7A98B"/>
<circle cx="169.6" cy="323.96" r="2.45" fill="#F7A98B"/>
<circle cx="176.4" cy="323.96" r="2.45" fill="#F7A98B"/>
<circle cx="183.2" cy="326.22" r="2.45" fill="#F7A98B"/>
<circle cx="190" cy="326.22" r="2.45" fill="#F7A98B"/>
<circle cx="196.8" cy="326.22" r="2.45" fill="#F7A98B"/>
<circle cx="203.6" cy="326.22" r="2.45" fill="#F7A98B"/>
<circle cx="210.4" cy="326.22" r="2.45" fill="#F7A98B"/>
<circle cx="217.2" cy="329.31" r="2.45" fill="#F7A98B"/>
<circle cx="224" cy="329.31" r="2.45" fill="#F7A98B"/>
<circle cx="230.8" cy="329.31" r="2.45" fill="#F7A98B"/>
<circle cx="237.6" cy="329.31" r="2.45" fill="#F7A98B"/>
<circle cx="244.4" cy="329.31" r="2.45" fill="#F7A98B"/>
<circle cx="251.2" cy="332.51" r="2.45" fill="#F7A98B"/>
<circle cx="258" cy="332.51" r="2.45" fill="#F7A98B"/>
<circle cx="264.8" cy="332.51" r="2.45" fill="#F7A98B"/>
<circle cx="271.6" cy="332.51" r="2.45" fill="#F7A98B"/>
<circle cx="278.4" cy="332.51" r="2.45" fill="#F7A98B"/>
<circle cx="285.2" cy="336.79" r="2.45" fill="#F7A98B"/>
<circle cx="292" cy="336.79" r="2.45" fill="#F7A98B"/>
<circle cx="298.8" cy="336.79" r="2.45" fill="#F7A98B"/>
<circle cx="305.6" cy="336.79" r="2.45" fill="#F7A98B"/>
<circle cx="312.4" cy="336.79" r="2.45" fill="#F7A98B"/>
<circle cx="319.2" cy="341.54" r="2.45" fill="#F7A98B"/>
<circle cx="326" cy="341.54" r="2.45" fill="#F7A98B"/>
<circle cx="332.8" cy="341.54" r="2.45" fill="#F7A98B"/>
<circle cx="339.6" cy="341.54" r="2.45" fill="#F7A98B"/>
<circle cx="346.4" cy="341.54" r="2.45" fill="#F7A98B"/>
<circle cx="353.2" cy="286.32" r="2.45" fill="#F7A98B"/>
<circle cx="360" cy="279.67" r="2.45" fill="#F7A98B"/>
<circle cx="366.8" cy="286.32" r="2.45" fill="#F7A98B"/>
<circle cx="373.6" cy="286.32" r="2.45" fill="#F7A98B"/>
<circle cx="380.4" cy="286.44" r="2.45" fill="#F7A98B"/>
<path d="M47.2 267.63 L44.5 272.3 L49.9 272.3 Z" fill="#86D9AB"/>
<path d="M54 267.63 L51.3 272.3 L56.7 272.3 Z" fill="#86D9AB"/>
<path d="M60.8 267.63 L58.1 272.3 L63.5 272.3 Z" fill="#86D9AB"/>
<path d="M67.6 267.63 L64.9 272.3 L70.3 272.3 Z" fill="#86D9AB"/>
<path d="M74.4 267.63 L71.7 272.3 L77.1 272.3 Z" fill="#86D9AB"/>
<path d="M81.2 267.63 L78.5 272.3 L83.9 272.3 Z" fill="#86D9AB"/>
<path d="M88 267.63 L85.3 272.3 L90.7 272.3 Z" fill="#86D9AB"/>
<path d="M94.8 267.63 L92.1 272.3 L97.5 272.3 Z" fill="#86D9AB"/>
<path d="M101.6 267.63 L98.9 272.3 L104.3 272.3 Z" fill="#86D9AB"/>
<path d="M108.4 267.63 L105.7 272.3 L111.1 272.3 Z" fill="#86D9AB"/>
<path d="M115.2 268.1 L112.5 272.78 L117.9 272.78 Z" fill="#86D9AB"/>
<path d="M122 268.1 L119.3 272.78 L124.7 272.78 Z" fill="#86D9AB"/>
<path d="M128.8 268.1 L126.1 272.78 L131.5 272.78 Z" fill="#86D9AB"/>
<path d="M135.6 268.1 L132.9 272.78 L138.3 272.78 Z" fill="#86D9AB"/>
<path d="M142.4 268.1 L139.7 272.78 L145.1 272.78 Z" fill="#86D9AB"/>
<path d="M149.2 270.24 L146.5 274.91 L151.9 274.91 Z" fill="#86D9AB"/>
<path d="M156 270.24 L153.3 274.91 L158.7 274.91 Z" fill="#86D9AB"/>
<path d="M162.8 270.24 L160.1 274.91 L165.5 274.91 Z" fill="#86D9AB"/>
<path d="M169.6 270.24 L166.9 274.91 L172.3 274.91 Z" fill="#86D9AB"/>
<path d="M176.4 270.24 L173.7 274.91 L179.1 274.91 Z" fill="#86D9AB"/>
<path d="M183.2 275.23 L180.5 279.9 L185.9 279.9 Z" fill="#86D9AB"/>
<path d="M190 276.89 L187.3 281.56 L192.7 281.56 Z" fill="#86D9AB"/>
<path d="M196.8 276.89 L194.1 281.56 L199.5 281.56 Z" fill="#86D9AB"/>
<path d="M203.6 276.89 L200.9 281.56 L206.3 281.56 Z" fill="#86D9AB"/>
<path d="M210.4 276.89 L207.7 281.56 L213.1 281.56 Z" fill="#86D9AB"/>
<path d="M217.2 285.08 L214.5 289.76 L219.9 289.76 Z" fill="#86D9AB"/>
<path d="M224 285.32 L221.3 290 L226.7 290 Z" fill="#86D9AB"/>
<path d="M230.8 287.46 L228.1 292.13 L233.5 292.13 Z" fill="#86D9AB"/>
<path d="M237.6 287.46 L234.9 292.13 L240.3 292.13 Z" fill="#86D9AB"/>
<path d="M244.4 287.46 L241.7 292.13 L247.1 292.13 Z" fill="#86D9AB"/>
<path d="M251.2 312.16 L248.5 316.83 L253.9 316.83 Z" fill="#86D9AB"/>
<path d="M258 313.58 L255.3 318.26 L260.7 318.26 Z" fill="#86D9AB"/>
<path d="M264.8 313.58 L262.1 318.26 L267.5 318.26 Z" fill="#86D9AB"/>
<path d="M271.6 313.58 L268.9 318.26 L274.3 318.26 Z" fill="#86D9AB"/>
<path d="M278.4 313.58 L275.7 318.26 L281.1 318.26 Z" fill="#86D9AB"/>
<path d="M285.2 317.62 L282.5 322.3 L287.9 322.3 Z" fill="#86D9AB"/>
<path d="M292 317.62 L289.3 322.3 L294.7 322.3 Z" fill="#86D9AB"/>
<path d="M298.8 317.62 L296.1 322.3 L301.5 322.3 Z" fill="#86D9AB"/>
<path d="M305.6 317.62 L302.9 322.3 L308.3 322.3 Z" fill="#86D9AB"/>
<path d="M312.4 317.62 L309.7 322.3 L315.1 322.3 Z" fill="#86D9AB"/>
<path d="M319.2 320.35 L316.5 325.03 L321.9 325.03 Z" fill="#86D9AB"/>
<path d="M326 320.35 L323.3 325.03 L328.7 325.03 Z" fill="#86D9AB"/>
<path d="M332.8 320.35 L330.1 325.03 L335.5 325.03 Z" fill="#86D9AB"/>
<path d="M339.6 320.35 L336.9 325.03 L342.3 325.03 Z" fill="#86D9AB"/>
<path d="M346.4 320.35 L343.7 325.03 L349.1 325.03 Z" fill="#86D9AB"/>
<path d="M353.2 266.2 L350.5 270.88 L355.9 270.88 Z" fill="#86D9AB"/>
<path d="M360 266.2 L357.3 270.88 L362.7 270.88 Z" fill="#86D9AB"/>
<path d="M366.8 266.2 L364.1 270.88 L369.5 270.88 Z" fill="#86D9AB"/>
<path d="M373.6 266.2 L370.9 270.88 L376.3 270.88 Z" fill="#86D9AB"/>
<path d="M380.4 265.49 L377.7 270.16 L383.1 270.16 Z" fill="#86D9AB"/>
<path d="M47.2 265.01 L47.92 266.93 L49.96 267.02 L48.36 268.29 L48.9 270.26 L47.2 269.13 L45.5 270.26 L46.04 268.29 L44.44 267.02 L46.48 266.93 Z" fill="#6FB2E2"/>
<path d="M54 265.01 L54.72 266.93 L56.76 267.02 L55.16 268.29 L55.7 270.26 L54 269.13 L52.3 270.26 L52.84 268.29 L51.24 267.02 L53.28 266.93 Z" fill="#6FB2E2"/>
<path d="M60.8 265.01 L61.52 266.93 L63.56 267.02 L61.96 268.29 L62.5 270.26 L60.8 269.13 L59.1 270.26 L59.64 268.29 L58.04 267.02 L60.08 266.93 Z" fill="#6FB2E2"/>
<path d="M67.6 265.01 L68.32 266.93 L70.36 267.02 L68.76 268.29 L69.3 270.26 L67.6 269.13 L65.9 270.26 L66.44 268.29 L64.84 267.02 L66.88 266.93 Z" fill="#6FB2E2"/>
<path d="M74.4 265.01 L75.12 266.93 L77.16 267.02 L75.56 268.29 L76.1 270.26 L74.4 269.13 L72.7 270.26 L73.24 268.29 L71.64 267.02 L73.68 266.93 Z" fill="#6FB2E2"/>
<path d="M81.2 265.01 L81.92 266.93 L83.96 267.02 L82.36 268.29 L82.9 270.26 L81.2 269.13 L79.5 270.26 L80.04 268.29 L78.44 267.02 L80.48 266.93 Z" fill="#6FB2E2"/>
<path d="M88 265.01 L88.72 266.93 L90.76 267.02 L89.16 268.29 L89.7 270.26 L88 269.13 L86.3 270.26 L86.84 268.29 L85.24 267.02 L87.28 266.93 Z" fill="#6FB2E2"/>
<path d="M94.8 265.01 L95.52 266.93 L97.56 267.02 L95.96 268.29 L96.5 270.26 L94.8 269.13 L93.1 270.26 L93.64 268.29 L92.04 267.02 L94.08 266.93 Z" fill="#6FB2E2"/>
<path d="M101.6 265.01 L102.32 266.93 L104.36 267.02 L102.76 268.29 L103.3 270.26 L101.6 269.13 L99.9 270.26 L100.44 268.29 L98.84 267.02 L100.88 266.93 Z" fill="#6FB2E2"/>
<path d="M108.4 265.01 L109.12 266.93 L111.16 267.02 L109.56 268.29 L110.1 270.26 L108.4 269.13 L106.7 270.26 L107.24 268.29 L105.64 267.02 L107.68 266.93 Z" fill="#6FB2E2"/>
<path d="M115.2 266.91 L115.92 268.83 L117.96 268.92 L116.36 270.19 L116.9 272.16 L115.2 271.03 L113.5 272.16 L114.04 270.19 L112.44 268.92 L114.48 268.83 Z" fill="#6FB2E2"/>
<path d="M122 266.91 L122.72 268.83 L124.76 268.92 L123.16 270.19 L123.7 272.16 L122 271.03 L120.3 272.16 L120.84 270.19 L119.24 268.92 L121.28 268.83 Z" fill="#6FB2E2"/>
<path d="M128.8 266.91 L129.52 268.83 L131.56 268.92 L129.96 270.19 L130.5 272.16 L128.8 271.03 L127.1 272.16 L127.64 270.19 L126.04 268.92 L128.08 268.83 Z" fill="#6FB2E2"/>
<path d="M135.6 266.91 L136.32 268.83 L138.36 268.92 L136.76 270.19 L137.3 272.16 L135.6 271.03 L133.9 272.16 L134.44 270.19 L132.84 268.92 L134.88 268.83 Z" fill="#6FB2E2"/>
<path d="M142.4 266.91 L143.12 268.83 L145.16 268.92 L143.56 270.19 L144.1 272.16 L142.4 271.03 L140.7 272.16 L141.24 270.19 L139.64 268.92 L141.68 268.83 Z" fill="#6FB2E2"/>
<path d="M149.2 266.2 L149.92 268.11 L151.96 268.2 L150.36 269.48 L150.9 271.45 L149.2 270.32 L147.5 271.45 L148.04 269.48 L146.44 268.2 L148.48 268.11 Z" fill="#6FB2E2"/>
<path d="M156 266.2 L156.72 268.11 L158.76 268.2 L157.16 269.48 L157.7 271.45 L156 270.32 L154.3 271.45 L154.84 269.48 L153.24 268.2 L155.28 268.11 Z" fill="#6FB2E2"/>
<path d="M162.8 266.2 L163.52 268.11 L165.56 268.2 L163.96 269.48 L164.5 271.45 L162.8 270.32 L161.1 271.45 L161.64 269.48 L160.04 268.2 L162.08 268.11 Z" fill="#6FB2E2"/>
<path d="M169.6 266.2 L170.32 268.11 L172.36 268.2 L170.76 269.48 L171.3 271.45 L169.6 270.32 L167.9 271.45 L168.44 269.48 L166.84 268.2 L168.88 268.11 Z" fill="#6FB2E2"/>
<path d="M176.4 266.2 L177.12 268.11 L179.16 268.2 L177.56 269.48 L178.1 271.45 L176.4 270.32 L174.7 271.45 L175.24 269.48 L173.64 268.2 L175.68 268.11 Z" fill="#6FB2E2"/>
<path d="M183.2 267.39 L183.92 269.3 L185.96 269.39 L184.36 270.66 L184.9 272.63 L183.2 271.51 L181.5 272.63 L182.04 270.66 L180.44 269.39 L182.48 269.3 Z" fill="#6FB2E2"/>
<path d="M190 267.39 L190.72 269.3 L192.76 269.39 L191.16 270.66 L191.7 272.63 L190 271.51 L188.3 272.63 L188.84 270.66 L187.24 269.39 L189.28 269.3 Z" fill="#6FB2E2"/>
<path d="M196.8 267.39 L197.52 269.3 L199.56 269.39 L197.96 270.66 L198.5 272.63 L196.8 271.51 L195.1 272.63 L195.64 270.66 L194.04 269.39 L196.08 269.3 Z" fill="#6FB2E2"/>
<path d="M203.6 267.39 L204.32 269.3 L206.36 269.39 L204.76 270.66 L205.3 272.63 L203.6 271.51 L201.9 272.63 L202.44 270.66 L200.84 269.39 L202.88 269.3 Z" fill="#6FB2E2"/>
<path d="M210.4 267.39 L211.12 269.3 L213.16 269.39 L211.56 270.66 L212.1 272.63 L210.4 271.51 L208.7 272.63 L209.24 270.66 L207.64 269.39 L209.68 269.3 Z" fill="#6FB2E2"/>
<path d="M217.2 269.29 L217.92 271.2 L219.96 271.29 L218.36 272.56 L218.9 274.53 L217.2 273.41 L215.5 274.53 L216.04 272.56 L214.44 271.29 L216.48 271.2 Z" fill="#6FB2E2"/>
<path d="M224 269.29 L224.72 271.2 L226.76 271.29 L225.16 272.56 L225.7 274.53 L224 273.41 L222.3 274.53 L222.84 272.56 L221.24 271.29 L223.28 271.2 Z" fill="#6FB2E2"/>
<path d="M230.8 269.29 L231.52 271.2 L233.56 271.29 L231.96 272.56 L232.5 274.53 L230.8 273.41 L229.1 274.53 L229.64 272.56 L228.04 271.29 L230.08 271.2 Z" fill="#6FB2E2"/>
<path d="M237.6 269.29 L238.32 271.2 L240.36 271.29 L238.76 272.56 L239.3 274.53 L237.6 273.41 L235.9 274.53 L236.44 272.56 L234.84 271.29 L236.88 271.2 Z" fill="#6FB2E2"/>
<path d="M244.4 269.29 L245.12 271.2 L247.16 271.29 L245.56 272.56 L246.1 274.53 L244.4 273.41 L242.7 274.53 L243.24 272.56 L241.64 271.29 L243.68 271.2 Z" fill="#6FB2E2"/>
<path d="M251.2 270.48 L251.92 272.39 L253.96 272.48 L252.36 273.75 L252.9 275.72 L251.2 274.59 L249.5 275.72 L250.04 273.75 L248.44 272.48 L250.48 272.39 Z" fill="#6FB2E2"/>
<path d="M258 270.48 L258.72 272.39 L260.76 272.48 L259.16 273.75 L259.7 275.72 L258 274.59 L256.3 275.72 L256.84 273.75 L255.24 272.48 L257.28 272.39 Z" fill="#6FB2E2"/>
<path d="M264.8 270.48 L265.52 272.39 L267.56 272.48 L265.96 273.75 L266.5 275.72 L264.8 274.59 L263.1 275.72 L263.64 273.75 L262.04 272.48 L264.08 272.39 Z" fill="#6FB2E2"/>
<path d="M271.6 270.48 L272.32 272.39 L274.36 272.48 L272.76 273.75 L273.3 275.72 L271.6 274.59 L269.9 275.72 L270.44 273.75 L268.84 272.48 L270.88 272.39 Z" fill="#6FB2E2"/>
<path d="M278.4 270.48 L279.12 272.39 L281.16 272.48 L279.56 273.75 L280.1 275.72 L278.4 274.59 L276.7 275.72 L277.24 273.75 L275.64 272.48 L277.68 272.39 Z" fill="#6FB2E2"/>
<path d="M285.2 272.85 L285.92 274.76 L287.96 274.85 L286.36 276.13 L286.9 278.1 L285.2 276.97 L283.5 278.1 L284.04 276.13 L282.44 274.85 L284.48 274.76 Z" fill="#6FB2E2"/>
<path d="M292 272.85 L292.72 274.76 L294.76 274.85 L293.16 276.13 L293.7 278.1 L292 276.97 L290.3 278.1 L290.84 276.13 L289.24 274.85 L291.28 274.76 Z" fill="#6FB2E2"/>
<path d="M298.8 272.85 L299.52 274.76 L301.56 274.85 L299.96 276.13 L300.5 278.1 L298.8 276.97 L297.1 278.1 L297.64 276.13 L296.04 274.85 L298.08 274.76 Z" fill="#6FB2E2"/>
<path d="M305.6 272.85 L306.32 274.76 L308.36 274.85 L306.76 276.13 L307.3 278.1 L305.6 276.97 L303.9 278.1 L304.44 276.13 L302.84 274.85 L304.88 274.76 Z" fill="#6FB2E2"/>
<path d="M312.4 272.85 L313.12 274.76 L315.16 274.85 L313.56 276.13 L314.1 278.1 L312.4 276.97 L310.7 278.1 L311.24 276.13 L309.64 274.85 L311.68 274.76 Z" fill="#6FB2E2"/>
<path d="M319.2 273.44 L319.92 275.36 L321.96 275.45 L320.36 276.72 L320.9 278.69 L319.2 277.56 L317.5 278.69 L318.04 276.72 L316.44 275.45 L318.48 275.36 Z" fill="#6FB2E2"/>
<path d="M326 273.44 L326.72 275.36 L328.76 275.45 L327.16 276.72 L327.7 278.69 L326 277.56 L324.3 278.69 L324.84 276.72 L323.24 275.45 L325.28 275.36 Z" fill="#6FB2E2"/>
<path d="M332.8 273.44 L333.52 275.36 L335.56 275.45 L333.96 276.72 L334.5 278.69 L332.8 277.56 L331.1 278.69 L331.64 276.72 L330.04 275.45 L332.08 275.36 Z" fill="#6FB2E2"/>
<path d="M339.6 273.44 L340.32 275.36 L342.36 275.45 L340.76 276.72 L341.3 278.69 L339.6 277.56 L337.9 278.69 L338.44 276.72 L336.84 275.45 L338.88 275.36 Z" fill="#6FB2E2"/>
<path d="M346.4 273.44 L347.12 275.36 L349.16 275.45 L347.56 276.72 L348.1 278.69 L346.4 277.56 L344.7 278.69 L345.24 276.72 L343.64 275.45 L345.68 275.36 Z" fill="#6FB2E2"/>
<path d="M353.2 263.83 L353.92 265.74 L355.96 265.83 L354.36 267.1 L354.9 269.07 L353.2 267.94 L351.5 269.07 L352.04 267.1 L350.44 265.83 L352.48 265.74 Z" fill="#6FB2E2"/>
<path d="M360 263.83 L360.72 265.74 L362.76 265.83 L361.16 267.1 L361.7 269.07 L360 267.94 L358.3 269.07 L358.84 267.1 L357.24 265.83 L359.28 265.74 Z" fill="#6FB2E2"/>
<path d="M366.8 263.83 L367.52 265.74 L369.56 265.83 L367.96 267.1 L368.5 269.07 L366.8 267.94 L365.1 269.07 L365.64 267.1 L364.04 265.83 L366.08 265.74 Z" fill="#6FB2E2"/>
<path d="M373.6 263.83 L374.32 265.74 L376.36 265.83 L374.76 267.1 L375.3 269.07 L373.6 267.94 L371.9 269.07 L372.44 267.1 L370.84 265.83 L372.88 265.74 Z" fill="#6FB2E2"/>
<path d="M380.4 270.24 L381.12 272.15 L383.16 272.24 L381.56 273.51 L382.1 275.48 L380.4 274.36 L378.7 275.48 L379.24 273.51 L377.64 272.24 L379.68 272.15 Z" fill="#6FB2E2"/>
<rect x="40.5" y="242.5" width="347" height="143" fill="none" stroke="#3a3a3a" stroke-width="1"/>
<line x1="40.5" y1="385" x2="36.7" y2="385" stroke="#3a3a3a" stroke-width="1"/>
<text x="34.2" y="389.3" font-size="12" text-anchor="end" >0</text>
<line x1="40.5" y1="349.38" x2="36.7" y2="349.38" stroke="#3a3a3a" stroke-width="1"/>
<text x="34.2" y="353.68" font-size="12" text-anchor="end" >30</text>
<line x1="40.5" y1="313.75" x2="36.7" y2="313.75" stroke="#3a3a3a" stroke-width="1"/>
<text x="34.2" y="318.05" font-size="12" text-anchor="end" >60</text>
<line x1="40.5" y1="278.12" x2="36.7" y2="278.12" stroke="#3a3a3a" stroke-width="1"/>
<text x="34.2" y="282.43" font-size="12" text-anchor="end" >90</text>
<line x1="40.5" y1="242.5" x2="36.7" y2="242.5" stroke="#3a3a3a" stroke-width="1"/>
<text x="34.2" y="246.8" font-size="12" text-anchor="end" >120</text>
<line x1="40.5" y1="367.19" x2="38.5" y2="367.19" stroke="#3a3a3a" stroke-width="1"/>
<line x1="40.5" y1="331.56" x2="38.5" y2="331.56" stroke="#3a3a3a" stroke-width="1"/>
<line x1="40.5" y1="295.94" x2="38.5" y2="295.94" stroke="#3a3a3a" stroke-width="1"/>
<line x1="40.5" y1="260.31" x2="38.5" y2="260.31" stroke="#3a3a3a" stroke-width="1"/>
<line x1="40.4" y1="385.5" x2="40.4" y2="389.3" stroke="#3a3a3a" stroke-width="1"/>
<text x="40.4" y="401.7" font-size="12" text-anchor="middle" >0</text>
<line x1="74.4" y1="385.5" x2="74.4" y2="389.3" stroke="#3a3a3a" stroke-width="1"/>
<text x="74.4" y="401.7" font-size="12" text-anchor="middle" >5</text>
<line x1="108.4" y1="385.5" x2="108.4" y2="389.3" stroke="#3a3a3a" stroke-width="1"/>
<text x="108.4" y="401.7" font-size="12" text-anchor="middle" >10</text>
<line x1="142.4" y1="385.5" x2="142.4" y2="389.3" stroke="#3a3a3a" stroke-width="1"/>
<text x="142.4" y="401.7" font-size="12" text-anchor="middle" >15</text>
<line x1="176.4" y1="385.5" x2="176.4" y2="389.3" stroke="#3a3a3a" stroke-width="1"/>
<text x="176.4" y="401.7" font-size="12" text-anchor="middle" >20</text>
<line x1="210.4" y1="385.5" x2="210.4" y2="389.3" stroke="#3a3a3a" stroke-width="1"/>
<text x="210.4" y="401.7" font-size="12" text-anchor="middle" >25</text>
<line x1="244.4" y1="385.5" x2="244.4" y2="389.3" stroke="#3a3a3a" stroke-width="1"/>
<text x="244.4" y="401.7" font-size="12" text-anchor="middle" >30</text>
<line x1="278.4" y1="385.5" x2="278.4" y2="389.3" stroke="#3a3a3a" stroke-width="1"/>
<text x="278.4" y="401.7" font-size="12" text-anchor="middle" >35</text>
<line x1="312.4" y1="385.5" x2="312.4" y2="389.3" stroke="#3a3a3a" stroke-width="1"/>
<text x="312.4" y="401.7" font-size="12" text-anchor="middle" >40</text>
<line x1="346.4" y1="385.5" x2="346.4" y2="389.3" stroke="#3a3a3a" stroke-width="1"/>
<text x="346.4" y="401.7" font-size="12" text-anchor="middle" >45</text>
<line x1="380.4" y1="385.5" x2="380.4" y2="389.3" stroke="#3a3a3a" stroke-width="1"/>
<text x="380.4" y="401.7" font-size="12" text-anchor="middle" >50</text>
<line x1="57.4" y1="385.5" x2="57.4" y2="387.3" stroke="#3a3a3a" stroke-width="1"/>
<line x1="91.4" y1="385.5" x2="91.4" y2="387.3" stroke="#3a3a3a" stroke-width="1"/>
<line x1="125.4" y1="385.5" x2="125.4" y2="387.3" stroke="#3a3a3a" stroke-width="1"/>
<line x1="159.4" y1="385.5" x2="159.4" y2="387.3" stroke="#3a3a3a" stroke-width="1"/>
<line x1="193.4" y1="385.5" x2="193.4" y2="387.3" stroke="#3a3a3a" stroke-width="1"/>
<line x1="227.4" y1="385.5" x2="227.4" y2="387.3" stroke="#3a3a3a" stroke-width="1"/>
<line x1="261.4" y1="385.5" x2="261.4" y2="387.3" stroke="#3a3a3a" stroke-width="1"/>
<line x1="295.4" y1="385.5" x2="295.4" y2="387.3" stroke="#3a3a3a" stroke-width="1"/>
<line x1="329.4" y1="385.5" x2="329.4" y2="387.3" stroke="#3a3a3a" stroke-width="1"/>
<line x1="363.4" y1="385.5" x2="363.4" y2="387.3" stroke="#3a3a3a" stroke-width="1"/>
<text x="58.6" y="259.3" font-size="10.4" text-anchor="middle" >1 C</text>
<text x="93.3" y="259.3" font-size="10.4" text-anchor="middle" >2 C</text>
<text x="125.6" y="259.3" font-size="10.4" text-anchor="middle" >4 C</text>
<text x="157.7" y="259.3" font-size="10.4" text-anchor="middle" >6 C</text>
<text x="193.7" y="259.3" font-size="10.4" text-anchor="middle" >8 C</text>
<text x="227.75" y="259.3" font-size="10.4" text-anchor="middle" >10 C</text>
<text x="262.6" y="259.3" font-size="10.4" text-anchor="middle" >12 C</text>
<text x="297.4" y="259.3" font-size="10.4" text-anchor="middle" >14 C</text>
<text x="331.1" y="259.3" font-size="10.4" text-anchor="middle" >16 C</text>
<text x="364" y="259.3" font-size="10.4" text-anchor="middle" >1 C</text>
<text x="50.2" y="377.7" font-size="9.5" text-anchor="start" >1 C = 100 mA g<tspan dy="-4" font-size="6.5">-1</tspan></text>
<text x="213.9" y="421.1" font-size="12.3" text-anchor="middle" >Cycle number</text>
<text transform="translate(11.8 313.4) rotate(-90)" font-size="12.6" text-anchor="middle" >Discharge capacity (mAh g<tspan dy="-4.5" font-size="8.2">-1</tspan><tspan dy="4.5">)</tspan></text>
<circle cx="134.1" cy="233.7" r="2.2" fill="#F7A98B"/>
<text x="148.5" y="237.6" font-size="12" text-anchor="start" >DIB-05</text>
<path d="M200.6 231.05 L197.95 235.64 L203.25 235.64 Z" fill="#86D9AB"/>
<text x="218.2" y="237.6" font-size="12" text-anchor="start" >DIB-1</text>
<path d="M267.2 230.9 L267.87 232.68 L269.77 232.77 L268.28 233.95 L268.79 235.78 L267.2 234.73 L265.61 235.78 L266.12 233.95 L264.63 232.77 L266.53 232.68 Z" fill="#6FB2E2"/>
<text x="281.5" y="237.6" font-size="12" text-anchor="start" >DIB-3</text>
<text x="7.9" y="233" font-size="30" text-anchor="start" >d</text>
<path d="M452.5 290 C452.92 289.97 452.08 289.83 455 289.8 C457.92 289.77 457.5 289.73 470 289.8 C482.5 289.87 511.67 289.88 530 290.2 C548.33 290.52 563.33 291.03 580 291.7 C596.67 292.37 613.33 293.25 630 294.2 C646.67 295.15 665.33 296.07 680 297.4 C694.67 298.73 706.33 301.1 718 302.2 C729.67 303.3 739.5 303.43 750 304 C760.5 304.57 775.83 305.33 781 305.6" fill="none" stroke="#F7A98B" stroke-width="5.6" stroke-linejoin="round" stroke-linecap="round" stroke-linecap="butt"/>
<path d="M436 269.7 C436.17 269.68 436 269.75 437 269.6 C438 269.45 440.33 269.03 442 268.8 C443.67 268.57 440.67 268.33 447 268.2 C453.33 268.07 466.17 268.02 480 268 C493.83 267.98 513.33 267.85 530 268.1 C546.67 268.35 563.33 268.77 580 269.5 C596.67 270.23 616.67 271.68 630 272.5 C643.33 273.32 651.67 273.75 660 274.4 C668.33 275.05 673.33 275.63 680 276.4 C686.67 277.17 693.67 278.2 700 279 C706.33 279.8 709.67 280.43 718 281.2 C726.33 281.97 739.5 282.87 750 283.6 C760.5 284.33 775.83 285.27 781 285.6" fill="none" stroke="#86D9AB" stroke-width="5.6" stroke-linejoin="round" stroke-linecap="round" stroke-linecap="butt"/>
<path d="M436 261.6 C436.17 261.58 436 261.6 437 261.5 C438 261.4 440.33 261.2 442 261 C443.67 260.8 444 260.48 447 260.3 C450 260.12 451.17 259.93 460 259.9 C468.83 259.87 488.33 259.98 500 260.1 C511.67 260.22 516.67 260.37 530 260.6 C543.33 260.83 563.33 261.03 580 261.5 C596.67 261.97 616.67 262.92 630 263.4 C643.33 263.88 651.67 264.03 660 264.4 C668.33 264.77 670.33 264.97 680 265.6 C689.67 266.23 706.33 267.5 718 268.2 C729.67 268.9 739.5 269.28 750 269.8 C760.5 270.32 775.83 271.05 781 271.3" fill="none" stroke="#6FB2E2" stroke-width="5.6" stroke-linejoin="round" stroke-linecap="round" stroke-linecap="butt"/>
<path d="M435.8 288.2 C436.17 288.07 437.13 287.67 438 287.4 C438.87 287.13 440 286.85 441 286.6 C442 286.35 443.08 286.02 444 285.9 C444.92 285.78 446.08 285.9 446.5 285.9" fill="none" stroke="#F7A98B" stroke-width="5.6" stroke-linejoin="round" stroke-linecap="round" stroke-linecap="butt"/>
<circle cx="448.5" cy="288.5" r="1.9" fill="none" stroke="#F7A98B" stroke-width="0.7"/>
<circle cx="450.5" cy="291.5" r="1.9" fill="none" stroke="#F7A98B" stroke-width="0.7"/>
<circle cx="448.2" cy="294.8" r="1.9" fill="none" stroke="#F7A98B" stroke-width="0.7"/>
<circle cx="452" cy="295.3" r="1.9" fill="none" stroke="#F7A98B" stroke-width="0.7"/>
<circle cx="447.5" cy="298.5" r="1.9" fill="none" stroke="#F7A98B" stroke-width="0.7"/>
<circle cx="451.5" cy="299" r="1.9" fill="none" stroke="#F7A98B" stroke-width="0.7"/>
<circle cx="447.5" cy="302.5" r="1.9" fill="none" stroke="#F7A98B" stroke-width="0.7"/>
<circle cx="451" cy="302.3" r="1.9" fill="none" stroke="#F7A98B" stroke-width="0.7"/>
<circle cx="455.7" cy="304.2" r="1.9" fill="none" stroke="#F7A98B" stroke-width="0.7"/>
<circle cx="452" cy="307" r="1.9" fill="none" stroke="#F7A98B" stroke-width="0.7"/>
<circle cx="449.6" cy="305.2" r="1.9" fill="none" stroke="#F7A98B" stroke-width="0.7"/>
<circle cx="453.5" cy="292.5" r="1.9" fill="none" stroke="#F7A98B" stroke-width="0.7"/>
<circle cx="449.5" cy="290.5" r="1.9" fill="none" stroke="#F7A98B" stroke-width="0.7"/>
<circle cx="446.4" cy="286.3" r="1.7" fill="#fff" stroke="#F7A98B" stroke-width="0.5"/>
<circle cx="781" cy="271.3" r="1.6" fill="#fff"/>
<circle cx="781" cy="285.6" r="1.6" fill="#fff"/>
<circle cx="781" cy="305.6" r="1.6" fill="#fff"/>
<rect x="435.5" y="238.5" width="347" height="142" fill="none" stroke="#3a3a3a" stroke-width="1"/>
<line x1="435.5" y1="380.6" x2="431.7" y2="380.6" stroke="#3a3a3a" stroke-width="1"/>
<text x="428.8" y="384.9" font-size="12" text-anchor="end" >0</text>
<line x1="435.5" y1="321.7" x2="431.7" y2="321.7" stroke="#3a3a3a" stroke-width="1"/>
<text x="428.8" y="326" font-size="12" text-anchor="end" >50</text>
<line x1="435.5" y1="262.8" x2="431.7" y2="262.8" stroke="#3a3a3a" stroke-width="1"/>
<text x="428.8" y="267.1" font-size="12" text-anchor="end" >100</text>
<line x1="435.5" y1="351.15" x2="433.5" y2="351.15" stroke="#3a3a3a" stroke-width="1"/>
<line x1="435.5" y1="292.25" x2="433.5" y2="292.25" stroke="#3a3a3a" stroke-width="1"/>
<line x1="435.7" y1="380.5" x2="435.7" y2="384.3" stroke="#3a3a3a" stroke-width="1"/>
<text x="435.7" y="397.2" font-size="12" text-anchor="middle" >0</text>
<line x1="505" y1="380.5" x2="505" y2="384.3" stroke="#3a3a3a" stroke-width="1"/>
<text x="505" y="397.2" font-size="12" text-anchor="middle" >200</text>
<line x1="574.3" y1="380.5" x2="574.3" y2="384.3" stroke="#3a3a3a" stroke-width="1"/>
<text x="574.3" y="397.2" font-size="12" text-anchor="middle" >400</text>
<line x1="643.6" y1="380.5" x2="643.6" y2="384.3" stroke="#3a3a3a" stroke-width="1"/>
<text x="643.6" y="397.2" font-size="12" text-anchor="middle" >600</text>
<line x1="712.9" y1="380.5" x2="712.9" y2="384.3" stroke="#3a3a3a" stroke-width="1"/>
<text x="712.9" y="397.2" font-size="12" text-anchor="middle" >800</text>
<line x1="782.2" y1="380.5" x2="782.2" y2="384.3" stroke="#3a3a3a" stroke-width="1"/>
<text x="782.2" y="397.2" font-size="12" text-anchor="middle" >1000</text>
<line x1="470.35" y1="380.5" x2="470.35" y2="382.3" stroke="#3a3a3a" stroke-width="1"/>
<line x1="539.65" y1="380.5" x2="539.65" y2="382.3" stroke="#3a3a3a" stroke-width="1"/>
<line x1="608.95" y1="380.5" x2="608.95" y2="382.3" stroke="#3a3a3a" stroke-width="1"/>
<line x1="678.25" y1="380.5" x2="678.25" y2="382.3" stroke="#3a3a3a" stroke-width="1"/>
<line x1="747.55" y1="380.5" x2="747.55" y2="382.3" stroke="#3a3a3a" stroke-width="1"/>
<text x="444.5" y="374.5" font-size="12" text-anchor="start" >100 mAh g<tspan dy="-5" font-size="8.5">−1</tspan></text>
<text x="608.9" y="417.4" font-size="12.3" text-anchor="middle" >Cycle number</text>
<text transform="translate(407.7 309.2) rotate(-90)" font-size="12.5" text-anchor="middle" >Discharge capacity (mAh g<tspan dy="-4.5" font-size="8.2">-1</tspan><tspan dy="4.5">)</tspan></text>
<circle cx="722.7" cy="335.8" r="2.1" fill="none" stroke="#6FB2E2" stroke-width="0.6"/>
<text x="737.1" y="340.1" font-size="12" text-anchor="start" >DIB-3</text>
<circle cx="722.7" cy="351.05" r="2.1" fill="none" stroke="#86D9AB" stroke-width="0.6"/>
<text x="737.1" y="355.35" font-size="12" text-anchor="start" >DIB-1</text>
<circle cx="722.7" cy="366.3" r="2.1" fill="none" stroke="#F7A98B" stroke-width="0.6"/>
<text x="737.1" y="370.6" font-size="12" text-anchor="start" >DIB-05</text>
<text x="416.2" y="234" font-size="30" text-anchor="start" >e</text>
</svg>
</body></html>
